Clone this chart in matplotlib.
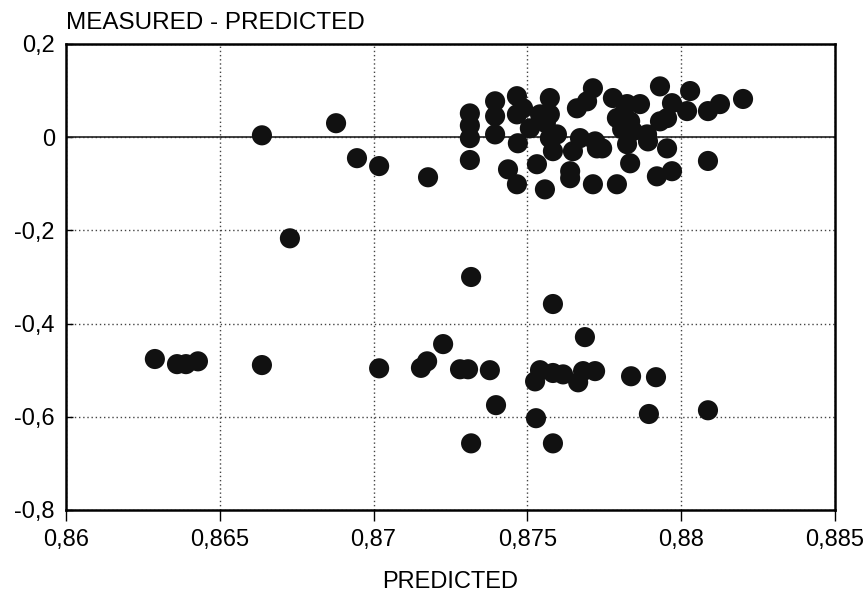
#!/usr/bin/env python3

import numpy as np
import matplotlib.pyplot as plt

plt.rcParams["font.family"] = ["Liberation Sans", "DejaVu Sans"]

# upper cluster, scattered points near zero, lower band
predicted = np.array([
    0.87313, 0.87313, 0.87313, 0.87395, 0.87395, 0.87395,
    0.87466, 0.87466, 0.87469, 0.87437, 0.87466, 0.87557,
    0.87573, 0.87573, 0.87573, 0.87583, 0.87531, 0.87508,
    0.87541, 0.87486, 0.87596, 0.87661, 0.87713, 0.87694,
    0.87671, 0.87648, 0.87639, 0.87639, 0.87713, 0.87791,
    0.87726, 0.87778, 0.87811, 0.87824, 0.87834, 0.87824,
    0.87866, 0.87791, 0.87834, 0.87808, 0.87843, 0.87889,
    0.87720, 0.87743, 0.87892, 0.87931, 0.87970, 0.87954,
    0.87931, 0.88019, 0.88029, 0.87954, 0.87921, 0.87970,
    0.88087, 0.88087, 0.88126, 0.88201, 0.87313, 0.87560,
    0.86637, 0.86878, 0.86946, 0.87018, 0.87177, 0.86728,
    0.86289, 0.86361, 0.86390, 0.86429, 0.86637, 0.87018,
    0.87154, 0.87174, 0.87226, 0.87281, 0.87307, 0.87378,
    0.87398, 0.87317, 0.87317, 0.87583, 0.87687, 0.87525,
    0.87541, 0.87583, 0.87616, 0.87665, 0.87681, 0.87720,
    0.87528, 0.87583, 0.87837, 0.87918, 0.87895, 0.88087,
])

residual = np.array([
    0.051, -0.002, -0.049, 0.077, 0.045, 0.006,
    0.088, 0.049, -0.013, -0.069, -0.101, -0.112,
    0.084, 0.049, -0.002, -0.030, -0.058, 0.019,
    0.049, 0.062, 0.006, 0.062, 0.105, 0.077,
    -0.002, -0.030, -0.073, -0.088, -0.101, -0.101,
    -0.024, 0.084, 0.049, -0.015, -0.056, 0.071,
    0.071, 0.041, 0.034, 0.017, 0.013, 0.006,
    -0.009, -0.024, -0.009, 0.109, 0.073, 0.041,
    0.034, 0.056, 0.099, -0.024, -0.084, -0.073,
    -0.051, 0.056, 0.071, 0.082, 0.025, 0.030,
    0.004, 0.030, -0.045, -0.062, -0.086, -0.217,
    -0.476, -0.487, -0.487, -0.481, -0.489, -0.496,
    -0.495, -0.481, -0.444, -0.498, -0.498, -0.500,
    -0.575, -0.657, -0.300, -0.358, -0.429, -0.524,
    -0.500, -0.506, -0.509, -0.526, -0.502, -0.502,
    -0.603, -0.657, -0.513, -0.515, -0.594, -0.586,
])

x_ticks = [0.86, 0.865, 0.87, 0.875, 0.88, 0.885]
x_labels = ["0,86", "0,865", "0,87", "0,875", "0,88", "0,885"]
y_ticks = [0.2, 0.0, -0.2, -0.4, -0.6, -0.8]
y_labels = ["0,2", "0", "-0,2", "-0,4", "-0,6", "-0,8"]


def main():
    fig = plt.figure(figsize=(8.68, 5.96), dpi=100)
    ax = fig.add_axes([0.076, 0.1443, 0.886, 0.7819])

    ax.scatter(predicted, residual, s=210, color="#111111",
               edgecolors="none", zorder=3)

    ax.set_xlim(0.86, 0.885)
    ax.set_ylim(-0.8, 0.2)

    ax.set_xticks(x_ticks)
    ax.set_xticklabels(x_labels)
    ax.set_yticks(y_ticks)
    ax.set_yticklabels(y_labels)

    ax.tick_params(axis="x", direction="out", length=8, width=1,
                   pad=6, labelsize=17)
    ax.tick_params(axis="y", direction="in", length=5, width=1,
                   pad=8, labelsize=17)

    # dotted grid, solid line at zero
    ax.grid(True, linestyle=(0, (1, 2)), linewidth=1, color="#444444")
    ax.axhline(0, color="#222222", linewidth=1.2, zorder=2)

    for spine in ax.spines.values():
        spine.set_linewidth(1.8)

    ax.text(0.0, 1.022, "MEASURED - PREDICTED", transform=ax.transAxes,
            ha="left", va="bottom", fontsize=17.5)
    ax.set_xlabel("PREDICTED", fontsize=17, labelpad=14)

    fig.savefig("out.png", dpi=100)


if __name__ == "__main__":
    main()
